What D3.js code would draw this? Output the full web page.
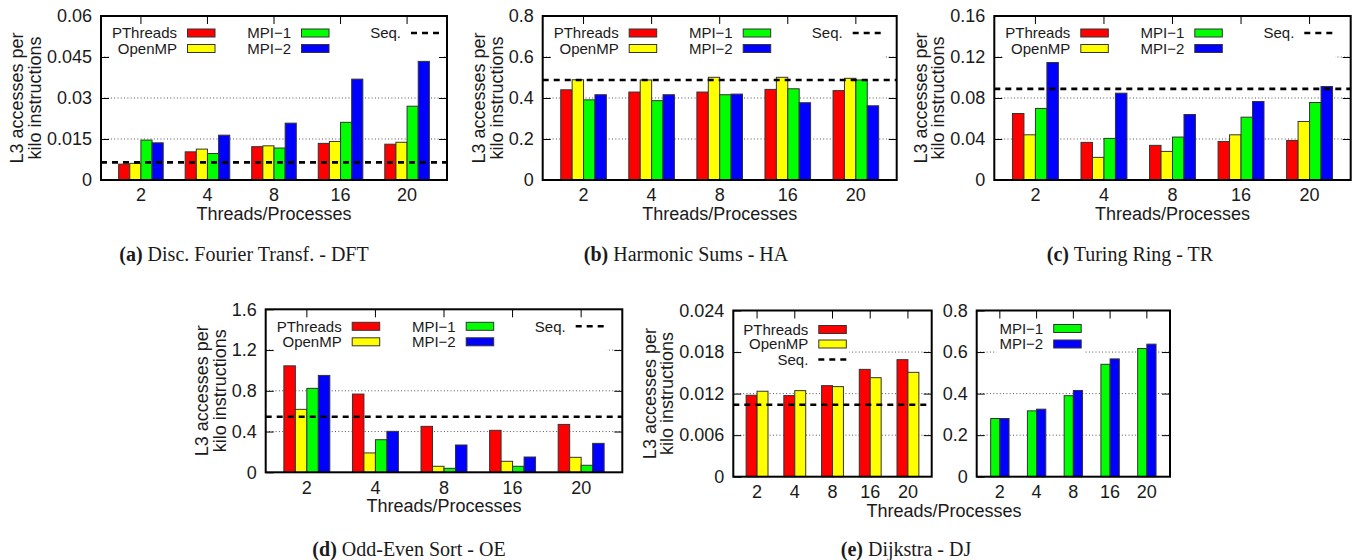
<!DOCTYPE html>
<html>
<head>
<meta charset="utf-8">
<script src="https://cdn.jsdelivr.net/npm/d3@7"></script>
<style>
body { margin: 0; background: #fff; }
svg { display: block; }
text { font-family: "Liberation Sans", Arial, sans-serif; fill: #1a1a1a; }
.cap { font-family: "Liberation Serif", "Times New Roman", serif; font-size: 20px; }
</style>
</head>
<body>
<svg id="chart" width="1358" height="560"></svg>
<script>
// x categories (threads / processes)
var threads = ["2", "4", "8", "16", "20"]

// (a) DFT
var dftPThreads = [0.0058, 0.0103, 0.0122, 0.0134, 0.0131]
var dftOpenMP   = [0.0061, 0.0113, 0.0125, 0.0141, 0.0138]
var dftMPI1     = [0.0146, 0.0097, 0.0117, 0.0211, 0.0270]
var dftMPI2     = [0.0136, 0.0164, 0.0208, 0.0369, 0.0434]
var dftSeq = 0.00645
var dftTicks = [0, 0.015, 0.03, 0.045, 0.06]
var dftTickLabels = ["0", "0.015", "0.03", "0.045", "0.06"]

// (b) HA
var haPThreads = [0.440, 0.429, 0.429, 0.442, 0.436]
var haOpenMP   = [0.489, 0.488, 0.501, 0.501, 0.496]
var haMPI1     = [0.391, 0.387, 0.416, 0.445, 0.488]
var haMPI2     = [0.416, 0.416, 0.419, 0.377, 0.362]
var haSeq = 0.488
var haTicks = [0, 0.2, 0.4, 0.6, 0.8]
var haTickLabels = ["0", "0.2", "0.4", "0.6", "0.8"]

// (c) TR
var trPThreads = [0.0649, 0.0367, 0.0338, 0.0376, 0.0386]
var trOpenMP   = [0.0441, 0.0221, 0.0279, 0.0441, 0.0571]
var trMPI1     = [0.0698, 0.0406, 0.0419, 0.0613, 0.0756]
var trMPI2     = [0.1146, 0.0847, 0.0639, 0.0766, 0.0912]
var trSeq = 0.0889
var trTicks = [0, 0.04, 0.08, 0.12, 0.16]
var trTickLabels = ["0", "0.04", "0.08", "0.12", "0.16"]

// (d) OE
var oePThreads = [1.045, 0.768, 0.451, 0.412, 0.470]
var oeOpenMP   = [0.618, 0.190, 0.059, 0.108, 0.147]
var oeMPI1     = [0.824, 0.320, 0.039, 0.059, 0.069]
var oeMPI2     = [0.951, 0.402, 0.268, 0.150, 0.284]
var oeSeq = 0.546
var oeTicks = [0, 0.4, 0.8, 1.2, 1.6]
var oeTickLabels = ["0", "0.4", "0.8", "1.2", "1.6"]

// (e) DJ, split in two panels
var djPThreads = [0.01176, 0.01171, 0.01315, 0.0155, 0.0169]
var djOpenMP   = [0.01234, 0.01243, 0.01301, 0.01430, 0.01507]
var djSeq = 0.0104
var djTicks = [0, 0.006, 0.012, 0.018, 0.024]
var djTickLabels = ["0", "0.006", "0.012", "0.018", "0.024"]
var djMPI1 = [0.280, 0.317, 0.390, 0.541, 0.617]
var djMPI2 = [0.280, 0.325, 0.415, 0.567, 0.638]
var djMpiTicks = [0, 0.2, 0.4, 0.6, 0.8]
var djMpiTickLabels = ["0", "0.2", "0.4", "0.6", "0.8"]

var RED = "#ff0000", YELLOW = "#ffff00", GREEN = "#00ff00", BLUE = "#0000ff"

var svg = d3.select("#chart")

function panel(o) {
	var g = svg.append("g")
	var x = d3.scaleBand().domain(threads)
		.range([o.left, o.right]).paddingInner(0).paddingOuter(o.pad)
	var y = d3.scaleLinear().domain([0, o.ticks[o.ticks.length - 1]])
		.range([o.bottom, o.top])

	// dotted grid
	g.selectAll(null).data(o.ticks.slice(1, -1)).enter().append("line")
		.attr("x1", o.left).attr("x2", o.right)
		.attr("y1", function(d) { return y(d) }).attr("y2", function(d) { return y(d) })
		.attr("stroke", "#555").attr("stroke-width", 1)
		.attr("stroke-dasharray", "1,2.3")

	// bars
	var n = o.series.length
	var gw = x.bandwidth() * o.fill
	var sub = d3.scaleBand().domain(d3.range(n)).range([0, gw])
	o.series.forEach(function(s, i) {
		g.selectAll(null).data(s.values).enter().append("rect")
			.attr("x", function(d, j) { return x(threads[j]) + (x.bandwidth() - gw) / 2 + sub(i) })
			.attr("y", function(d) { return y(d) })
			.attr("width", sub.bandwidth())
			.attr("height", function(d) { return o.bottom - y(d) })
			.attr("fill", s.color)
			.attr("stroke", "#333").attr("stroke-width", 1)
	})

	// sequential reference
	if (o.seq != null) {
		g.append("line")
			.attr("x1", o.left).attr("x2", o.right)
			.attr("y1", y(o.seq)).attr("y2", y(o.seq))
			.attr("stroke", "#000").attr("stroke-width", 2.6)
			.attr("stroke-dasharray", "6,5")
	}

	// legend (opaque)
	var lg = g.append("g")
	o.legend.forEach(function(it) {
		var te = o.left + o.legendCols[it.col]
		var ry = o.top + o.legendRows[it.row]
		lg.append("text").attr("x", te).attr("y", ry).attr("dy", "0.35em")
			.attr("text-anchor", "end").style("font-size", "15px").text(it.label)
		if (it.color) {
			lg.append("rect").attr("x", te + 10.5).attr("y", ry - 4)
				.attr("width", 27.5).attr("height", 8)
				.attr("fill", it.color).attr("stroke", "#333").attr("stroke-width", 1)
		} else {
			lg.append("line").attr("x1", te + 10).attr("x2", te + 38)
				.attr("y1", ry).attr("y2", ry)
				.attr("stroke", "#000").attr("stroke-width", 2.6)
				.attr("stroke-dasharray", "6,5")
		}
	})
	var bb = lg.node().getBBox()
	lg.insert("rect", ":first-child")
		.attr("x", bb.x - 3).attr("y", bb.y - 2)
		.attr("width", bb.width + 6).attr("height", bb.height + 4)
		.attr("fill", "#fff")

	// axes: left with labels, others are mirrored ticks
	var yl = g.append("g").attr("transform", "translate(" + o.left + ",0)")
		.call(d3.axisLeft(y).tickValues(o.ticks)
			.tickFormat(function(d, i) { return o.tickLabels[i] })
			.tickSize(-8).tickPadding(9))
	yl.select(".domain").remove()
	yl.selectAll("text").style("font-size", "18px").style("font-family", null)
		.attr("fill", "#1a1a1a")
	yl.selectAll("line").attr("stroke", "#000")

	var yr = g.append("g").attr("transform", "translate(" + o.right + ",0)")
		.call(d3.axisRight(y).tickValues(o.ticks.slice(1, -1)).tickSize(-8).tickFormat(""))
	yr.select(".domain").remove()
	yr.selectAll("line").attr("stroke", "#000")

	var xt = g.append("g").attr("transform", "translate(0," + o.top + ")")
		.call(d3.axisTop(x).tickSize(-8).tickFormat(""))
	xt.select(".domain").remove()
	xt.selectAll("line").attr("stroke", "#000")

	var xb = g.append("g").attr("transform", "translate(0," + o.bottom + ")")
		.call(d3.axisBottom(x).tickSize(0).tickPadding(8.7))
	xb.select(".domain").remove()
	xb.selectAll("text").style("font-size", "18px").style("font-family", null)
		.attr("fill", "#1a1a1a")

	// frame
	g.append("rect").attr("x", o.left).attr("y", o.top)
		.attr("width", o.right - o.left).attr("height", o.bottom - o.top)
		.attr("fill", "none").attr("stroke", "#000").attr("stroke-width", 2)

	// y title, placed just left of the widest tick label
	if (o.yTitle) {
		var lx = o.left + yl.node().getBBox().x
		var cy = (o.top + o.bottom) / 2
		;[["L3 accesses per", lx - 23.5], ["kilo instructions", lx - 6]].forEach(function(t) {
			g.append("text")
				.attr("transform", "translate(" + t[1] + "," + cy + ") rotate(-90)")
				.attr("text-anchor", "middle").style("font-size", "18px").text(t[0])
		})
	}
	// x title
	if (o.xTitle != null) {
		g.append("text").attr("x", o.xTitle).attr("y", o.bottom + 40)
			.attr("text-anchor", "middle").style("font-size", "18px")
			.text("Threads/Processes")
	}
}

var fourLegend = [
	{ label: "PThreads", color: RED, col: 0, row: 0 },
	{ label: "OpenMP", color: YELLOW, col: 0, row: 1 },
	{ label: "MPI\u22121", color: GREEN, col: 1, row: 0 },
	{ label: "MPI\u22122", color: BLUE, col: 1, row: 1 },
	{ label: "Seq.", color: null, col: 2, row: 0 }
]

function fourPanel(left, right, top, bottom, p, om, m1, m2, seq, ticks, labels) {
	panel({
		left: left, right: right, top: top, bottom: bottom, pad: 0.1, fill: 0.67,
		ticks: ticks, tickLabels: labels, seq: seq,
		series: [{ values: p, color: RED }, { values: om, color: YELLOW },
			{ values: m1, color: GREEN }, { values: m2, color: BLUE }],
		legend: fourLegend, legendCols: [76, 190, 300], legendRows: [17, 32.5],
		yTitle: true, xTitle: (left + right) / 2
	})
}

fourPanel(101, 447, 16, 180, dftPThreads, dftOpenMP, dftMPI1, dftMPI2, dftSeq, dftTicks, dftTickLabels)
fourPanel(542.7, 896.7, 16, 180, haPThreads, haOpenMP, haMPI1, haMPI2, haSeq, haTicks, haTickLabels)
fourPanel(994.3, 1350.7, 16, 180, trPThreads, trOpenMP, trMPI1, trMPI2, trSeq, trTicks, trTickLabels)
fourPanel(265.7, 622.3, 309.3, 472.3, oePThreads, oeOpenMP, oeMPI1, oeMPI2, oeSeq, oeTicks, oeTickLabels)

panel({
	left: 733.3, right: 931.7, top: 310.5, bottom: 476.7, pad: 0.13, fill: 0.58,
	ticks: djTicks, tickLabels: djTickLabels, seq: djSeq,
	series: [{ values: djPThreads, color: RED }, { values: djOpenMP, color: YELLOW }],
	legend: [
		{ label: "PThreads", color: RED, col: 0, row: 0 },
		{ label: "OpenMP", color: YELLOW, col: 0, row: 1 },
		{ label: "Seq.", color: null, col: 0, row: 2 }
	],
	legendCols: [75], legendRows: [19, 33.5, 49],
	yTitle: true, xTitle: 944
})
panel({
	left: 976.7, right: 1170, top: 310.5, bottom: 476.7, pad: 0.13, fill: 0.5,
	ticks: djMpiTicks, tickLabels: djMpiTickLabels, seq: null,
	series: [{ values: djMPI1, color: GREEN }, { values: djMPI2, color: BLUE }],
	legend: [
		{ label: "MPI\u22121", color: GREEN, col: 0, row: 0 },
		{ label: "MPI\u22122", color: BLUE, col: 0, row: 1 }
	],
	legendCols: [66.5], legendRows: [18, 33.5],
	yTitle: false, xTitle: null
})

// sub-figure captions
var captions = [
	{ tag: "(a)", text: " Disc. Fourier Transf. - DFT", x: 244, y: 261 },
	{ tag: "(b)", text: " Harmonic Sums - HA", x: 686, y: 261 },
	{ tag: "(c)", text: " Turing Ring - TR", x: 1130, y: 261 },
	{ tag: "(d)", text: " Odd-Even Sort - OE", x: 409, y: 556 },
	{ tag: "(e)", text: " Dijkstra - DJ", x: 906, y: 556 }
]
captions.forEach(function(c) {
	var t = svg.append("text").attr("class", "cap")
		.attr("x", c.x).attr("y", c.y).attr("text-anchor", "middle")
	t.append("tspan").style("font-weight", "bold").text(c.tag)
	t.append("tspan").text(c.text)
})
</script>
</body>
</html>
